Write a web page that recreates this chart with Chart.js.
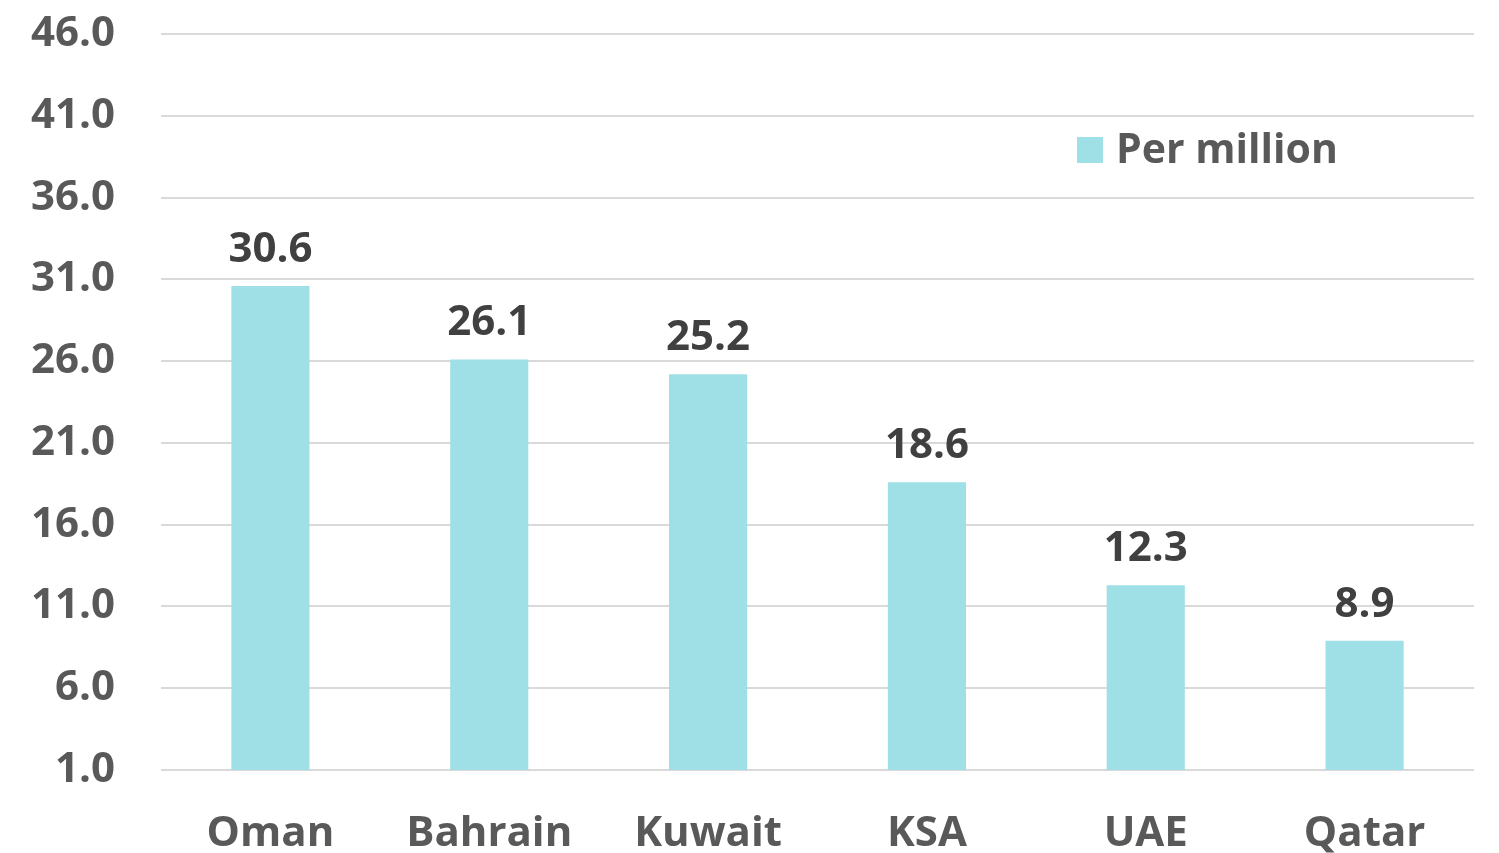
<!DOCTYPE html>
<html>
<head>
<meta charset="utf-8">
<script src="https://cdn.jsdelivr.net/npm/chart.js@4"></script>
<style>
html,body{margin:0;padding:0;background:#fff;}
#wrap{width:1499px;height:853px;position:relative;}
</style>
</head>
<body>
<div id="wrap"><canvas id="c" width="1499" height="853"></canvas></div>
<script>
const categories = ["Oman", "Bahrain", "Kuwait", "KSA", "UAE", "Qatar"];
const perMillion = [30.6, 26.1, 25.2, 18.6, 12.3, 8.9];
const seriesLabel = "Per million";
const yMin = 1, yMax = 46, yStep = 5;

const FONT = "'Open Sans', sans-serif";
const BAR_COLOR = "#9EE0E5";

const valueLabels = {
  id: 'valueLabels',
  afterDatasetsDraw(chart) {
    const ctx = chart.ctx;
    const meta = chart.getDatasetMeta(0);
    ctx.save();
    ctx.font = "bold 42px " + FONT;
    ctx.fillStyle = "#404040";
    ctx.textAlign = "center";
    ctx.textBaseline = "bottom";
    meta.data.forEach((bar, i) => {
      ctx.fillText(chart.data.datasets[0].data[i].toFixed(1), bar.x, bar.y - 15);
    });
    ctx.restore();
  }
};

const insideLegend = {
  id: 'insideLegend',
  afterDraw(chart) {
    const ctx = chart.ctx;
    const ds = chart.data.datasets[0];
    const x = 1077, y = 150;
    ctx.save();
    ctx.fillStyle = ds.backgroundColor;
    ctx.fillRect(x, y - 13, 26, 26);
    ctx.font = "bold 41px " + FONT;
    ctx.fillStyle = "#595959";
    ctx.textAlign = "left";
    ctx.textBaseline = "middle";
    ctx.fillText(ds.label, x + 39, y + 1);
    ctx.restore();
  }
};

new Chart(document.getElementById('c'), {
  type: 'bar',
  data: {
    labels: categories,
    datasets: [{
      label: seriesLabel,
      data: perMillion,
      backgroundColor: BAR_COLOR,
      borderWidth: 0,
      barPercentage: 0.357,
      categoryPercentage: 1.0
    }]
  },
  options: {
    responsive: false,
    animation: false,
    devicePixelRatio: 1,
    layout: { padding: { top: 34, right: 25, left: 0, bottom: 0 } },
    plugins: {
      legend: { display: false },
      tooltip: { enabled: false }
    },
    scales: {
      x: {
        grid: { display: false, drawTicks: false },
        border: { display: false },
        ticks: {
          font: { family: FONT, size: 42, weight: 'bold' },
          color: "#595959",
          padding: 39,
          maxRotation: 0
        },
        afterFit(scale) { scale.height = 83; scale.paddingLeft = 0; scale.paddingRight = 0; }
      },
      y: {
        min: yMin,
        max: yMax,
        grid: { color: "#D9D9D9", lineWidth: 2, drawTicks: false },
        border: { display: false },
        ticks: {
          stepSize: yStep,
          font: { family: FONT, size: 42, weight: 'bold' },
          color: "#595959",
          padding: 46,
          callback: v => Number(v).toFixed(1)
        },
        afterFit(scale) { scale.width = 161; scale.paddingTop = 0; scale.paddingBottom = 0; }
      }
    }
  },
  plugins: [valueLabels, insideLegend]
});
</script>
</body>
</html>
